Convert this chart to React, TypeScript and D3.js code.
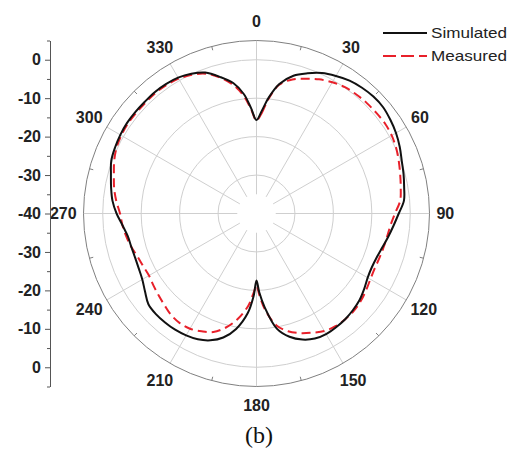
import { useEffect, useRef } from 'react';
import * as d3 from 'd3';

// angles in degrees (clockwise from top), gains in dB
const angles = [
  0, 3, 6, 10, 15, 20, 25, 30, 35, 40, 45, 50, 55, 60, 65, 70, 75, 80, 85, 90,
  95, 100, 105, 110, 115, 120, 125, 130, 135, 140, 145, 150, 155, 160, 165, 170, 175, 178,
  180, 182, 185, 190, 195, 200, 205, 210, 215, 220, 225, 230, 235, 240, 245, 250, 255, 260,
  265, 270, 275, 280, 285, 290, 295, 300, 305, 310, 315, 320, 325, 330, 335, 340, 345, 350,
  354, 357,
];

const simulated = [
  -15.7, -13.2, -9.7, -5.8, -2.9, -1.2, 0.3, 1.3, 2.2, 2.7, 3.0, 3.0, 2.5, 1.9, 1.1, 0.2, -0.4, -1.0, -1.5, -3.0,
  -4.2, -5.2, -6.1, -6.7, -6.9, -6.6, -5.8, -5.0, -4.5, -4.1, -3.9, -3.8, -4.1, -5.1, -6.8, -9.6, -15.5, -19.5,
  -22.6, -18.5, -14.0, -9.5, -6.6, -4.9, -3.9, -3.4, -3.1, -3.0, -3.0, -3.3, -4.6, -5.7, -6.2, -6.4, -6.3, -6.0,
  -5.0, -3.6, -2.4, -1.6, -0.8, 0.2, 0.6, 0.9, 1.1, 1.1, 1.1, 1.2, 1.1, 0.8, 0.1, -1.0, -3.2, -5.6,
  -8.8, -12.5,
];

const measured = [
  -15.8, -13.8, -10.0, -6.0, -3.9, -2.7, -1.5, -0.6, 0.1, 0.4, 0.6, 0.7, 0.8, 0.6, 0.1, -0.6, -1.3, -1.9, -2.5, -4.0,
  -5.0, -5.5, -5.8, -6.0, -6.1, -5.8, -5.2, -4.6, -4.2, -4.1, -4.2, -4.7, -5.8, -6.9, -8.3, -10.5, -15.0, -18.8,
  -21.2, -19.5, -16.0, -12.2, -9.3, -7.2, -6.2, -5.4, -5.2, -5.5, -6.2, -6.8, -7.3, -7.7, -7.5, -7.1, -6.3, -5.6,
  -5.0, -4.5, -3.4, -2.4, -1.6, -0.6, 0.2, 0.6, 0.8, 0.8, 0.8, 0.9, 0.8, 0.5, -0.2, -1.3, -3.4, -6.2,
  -9.4, -12.8,
];

const angleTicks = [0, 30, 60, 90, 120, 150, 180, 210, 240, 270, 300, 330];
const ringTicks = [-30, -20, -10, 0];
const majorTicks = [-40, -30, -20, -10, 0];
const minorTicks = [-35, -25, -15, -5, 5];
const seriesNames = ['Simulated', 'Measured'];

const App = () => {
  const svgRef = useRef<SVGSVGElement | null>(null);

  useEffect(() => {
    if (!svgRef.current) return;
    const svg = d3.select(svgRef.current);
    svg.selectAll('*').remove();

    const cx = 256.5;
    const cy = 213.5;
    const outerR = 173;
    const font = 'Arial, "Liberation Sans", sans-serif';

    const r = d3.scaleLinear().domain([-40, 5]).range([0, outerR]);
    const rad = (deg: number) => (deg * Math.PI) / 180;

    const g = svg.append('g').attr('transform', `translate(${cx},${cy})`);

    // grid rings
    g.selectAll('circle.ring')
      .data(ringTicks)
      .join('circle')
      .attr('class', 'ring')
      .attr('r', d => r(d))
      .attr('fill', 'none')
      .attr('stroke', '#cfcfcf')
      .attr('stroke-width', 1);

    // spokes
    g.selectAll('line.spoke')
      .data(angleTicks)
      .join('line')
      .attr('class', 'spoke')
      .attr('x1', d => r(-35) * Math.sin(rad(d)))
      .attr('y1', d => -r(-35) * Math.cos(rad(d)))
      .attr('x2', d => outerR * Math.sin(rad(d)))
      .attr('y2', d => -outerR * Math.cos(rad(d)))
      .attr('stroke', '#cfcfcf')
      .attr('stroke-width', 1);

    // outer circle
    g.append('circle')
      .attr('r', outerR)
      .attr('fill', 'none')
      .attr('stroke', '#808080')
      .attr('stroke-width', 1);

    // small ticks on outer circle, between spokes
    g.selectAll('line.minor')
      .data(angleTicks.map(a => a + 15))
      .join('line')
      .attr('class', 'minor')
      .attr('x1', d => outerR * Math.sin(rad(d)))
      .attr('y1', d => -outerR * Math.cos(rad(d)))
      .attr('x2', d => (outerR - 4) * Math.sin(rad(d)))
      .attr('y2', d => -(outerR - 4) * Math.cos(rad(d)))
      .attr('stroke', '#808080')
      .attr('stroke-width', 1);

    // angle labels
    g.selectAll('text.angle')
      .data(angleTicks)
      .join('text')
      .attr('class', 'angle')
      .attr('x', d => (180 + String(d).length * 4.4) * Math.sin(rad(d)))
      .attr('y', d => -(180 + 12) * Math.cos(rad(d)))
      .attr('dy', '0.36em')
      .attr('text-anchor', 'middle')
      .attr('font-family', font)
      .attr('font-weight', 'bold')
      .attr('font-size', 16)
      .attr('fill', '#222')
      .text(d => String(d));

    // pattern curves
    const line = d3.lineRadial<number>()
      .angle((_, i) => rad(angles[i]))
      .radius(d => r(d))
      .curve(d3.curveCatmullRomClosed.alpha(0.5));

    g.append('path')
      .attr('d', line(measured))
      .attr('fill', 'none')
      .attr('stroke', '#e8202a')
      .attr('stroke-width', 2)
      .attr('stroke-dasharray', '9,5');

    g.append('path')
      .attr('d', line(simulated))
      .attr('fill', 'none')
      .attr('stroke', '#111')
      .attr('stroke-width', 2);

    // left radial axis, mirrored top and bottom
    const axisX = 50;
    const yTop = d3.scaleLinear().domain([-40, 5]).range([cy, cy - outerR]);
    const yBot = d3.scaleLinear().domain([-40, 5]).range([cy, cy + outerR]);

    const styleAxis = (sel: d3.Selection<SVGGElement, unknown, null, undefined>) => {
      sel.select('.domain').attr('stroke', '#555');
      sel.selectAll('.tick line').attr('stroke', '#555');
      sel.selectAll('.tick text')
        .attr('font-family', font)
        .attr('font-weight', 'bold')
        .attr('font-size', 16)
        .attr('fill', '#222');
    };

    const fmt = (d: d3.NumberValue) => String(d);

    [yTop, yBot].forEach((scale, k) => {
      const major = svg.append('g')
        .attr('transform', `translate(${axisX},0)`)
        .call(d3.axisLeft(scale)
          .tickValues(k === 0 ? majorTicks : majorTicks.slice(1))
          .tickFormat(fmt)
          .tickSize(5)
          .tickSizeOuter(0)
          .tickPadding(4));
      styleAxis(major);
      const minor = svg.append('g')
        .attr('transform', `translate(${axisX},0)`)
        .call(d3.axisLeft(scale)
          .tickValues(minorTicks)
          .tickFormat(() => '')
          .tickSize(3)
          .tickSizeOuter(0));
      styleAxis(minor);
    });

    // legend
    const legend = svg.append('g').attr('transform', 'translate(383,33)');
    seriesNames.forEach((name, i) => {
      const row = legend.append('g').attr('transform', `translate(0,${i * 23})`);
      row.append('line')
        .attr('x1', 0).attr('x2', 44).attr('y1', 0).attr('y2', 0)
        .attr('stroke', i === 0 ? '#111' : '#e8202a')
        .attr('stroke-width', 2)
        .attr('stroke-dasharray', i === 0 ? null : '13,5');
      row.append('text')
        .attr('x', 48)
        .attr('dy', '0.36em')
        .attr('font-family', font)
        .attr('font-size', 15)
        .attr('fill', '#222')
        .attr('textLength', 76)
        .attr('lengthAdjust', 'spacingAndGlyphs')
        .text(name);
    });

    // caption
    svg.append('text')
      .attr('x', 259)
      .attr('y', 443)
      .attr('text-anchor', 'middle')
      .attr('font-family', '"Liberation Serif", "Times New Roman", serif')
      .attr('font-size', 24)
      .attr('fill', '#111')
      .text('(b)');
  }, []);

  return (
    <svg
      ref={svgRef}
      width="515"
      height="451"
      style={{ position: 'absolute', left: 0, top: 0, background: '#fff' }}
    ></svg>
  );
};

export default App;
